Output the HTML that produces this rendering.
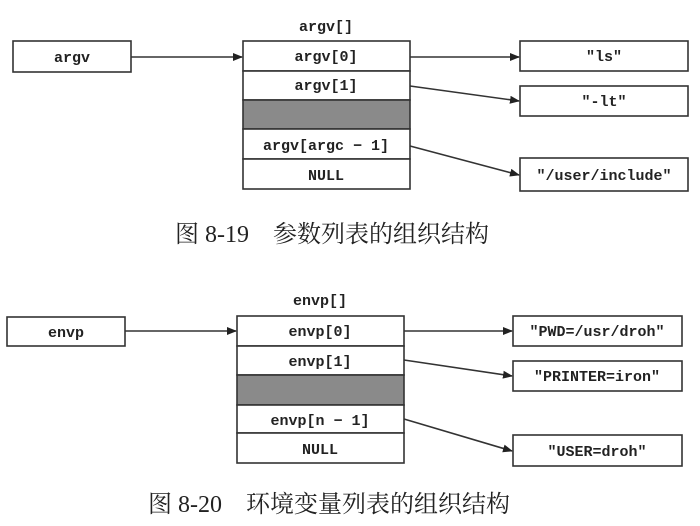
<!DOCTYPE html>
<html><head><meta charset="utf-8"><style>
html,body{margin:0;padding:0;background:#fff;}
svg{display:block}
.t{font-family:"Liberation Mono",monospace;font-weight:bold;font-size:15px;fill:#222;text-anchor:middle;}
.c{font-family:"Liberation Serif","Noto Serif CJK SC","Noto Sans CJK SC",serif;font-size:24px;fill:#222;}
rect{fill:#fff;stroke:#333;stroke-width:1.6}
line{stroke:#333;stroke-width:1.6}
</style></head><body>
<svg width="700" height="526" viewBox="0 0 700 526" xmlns="http://www.w3.org/2000/svg">
<defs>
<marker id="a" markerWidth="10" markerHeight="8" refX="9" refY="4" orient="auto" markerUnits="userSpaceOnUse"><path d="M0,0 L10,4 L0,8 z" fill="#222"/></marker>
</defs>
<rect x="0" y="0" width="700" height="526" style="fill:#fff;stroke:none"/>
<!-- Figure 8-19 -->
<text class="t" x="326" y="31">argv[]</text>
<rect x="13" y="41" width="118" height="31"/>
<text class="t" x="72" y="62">argv</text>
<rect x="243" y="41" width="167" height="30"/>
<rect x="243" y="71" width="167" height="29"/>
<rect x="243" y="100" width="167" height="29" style="fill:#8a8a8a"/>
<rect x="243" y="129" width="167" height="30"/>
<rect x="243" y="159" width="167" height="30"/>
<text class="t" x="326" y="61">argv[0]</text>
<text class="t" x="326" y="90">argv[1]</text>
<text class="t" x="326" y="150">argv[argc − 1]</text>
<text class="t" x="326" y="180">NULL</text>
<rect x="520" y="41" width="168" height="30"/>
<rect x="520" y="86" width="168" height="30"/>
<rect x="520" y="158" width="168" height="33"/>
<text class="t" x="604" y="61">"ls"</text>
<text class="t" x="604" y="106">"-lt"</text>
<text class="t" x="604" y="180">"/user/include"</text>
<line x1="131" y1="57" x2="242" y2="57" marker-end="url(#a)"/>
<line x1="410" y1="57" x2="519" y2="57" marker-end="url(#a)"/>
<line x1="410" y1="86" x2="519" y2="101" marker-end="url(#a)"/>
<line x1="410" y1="146" x2="519" y2="175" marker-end="url(#a)"/>
<text class="c" x="175" y="242">图 8-19　参数列表的组织结构</text>
<!-- Figure 8-20 -->
<text class="t" x="320" y="305">envp[]</text>
<rect x="7" y="317" width="118" height="29"/>
<text class="t" x="66" y="337">envp</text>
<rect x="237" y="316" width="167" height="30"/>
<rect x="237" y="346" width="167" height="29"/>
<rect x="237" y="375" width="167" height="30" style="fill:#8a8a8a"/>
<rect x="237" y="405" width="167" height="28"/>
<rect x="237" y="433" width="167" height="30"/>
<text class="t" x="320" y="336">envp[0]</text>
<text class="t" x="320" y="366">envp[1]</text>
<text class="t" x="320" y="425">envp[n − 1]</text>
<text class="t" x="320" y="454">NULL</text>
<rect x="513" y="316" width="169" height="30"/>
<rect x="513" y="361" width="169" height="30"/>
<rect x="513" y="435" width="169" height="31"/>
<text class="t" x="597" y="336">"PWD=/usr/droh"</text>
<text class="t" x="597" y="381">"PRINTER=iron"</text>
<text class="t" x="597" y="456">"USER=droh"</text>
<line x1="125" y1="331" x2="236" y2="331" marker-end="url(#a)"/>
<line x1="404" y1="331" x2="512" y2="331" marker-end="url(#a)"/>
<line x1="404" y1="360" x2="512" y2="376" marker-end="url(#a)"/>
<line x1="404" y1="419" x2="512" y2="451" marker-end="url(#a)"/>
<text class="c" x="148" y="512">图 8-20　环境变量列表的组织结构</text>
</svg>
</body></html>
